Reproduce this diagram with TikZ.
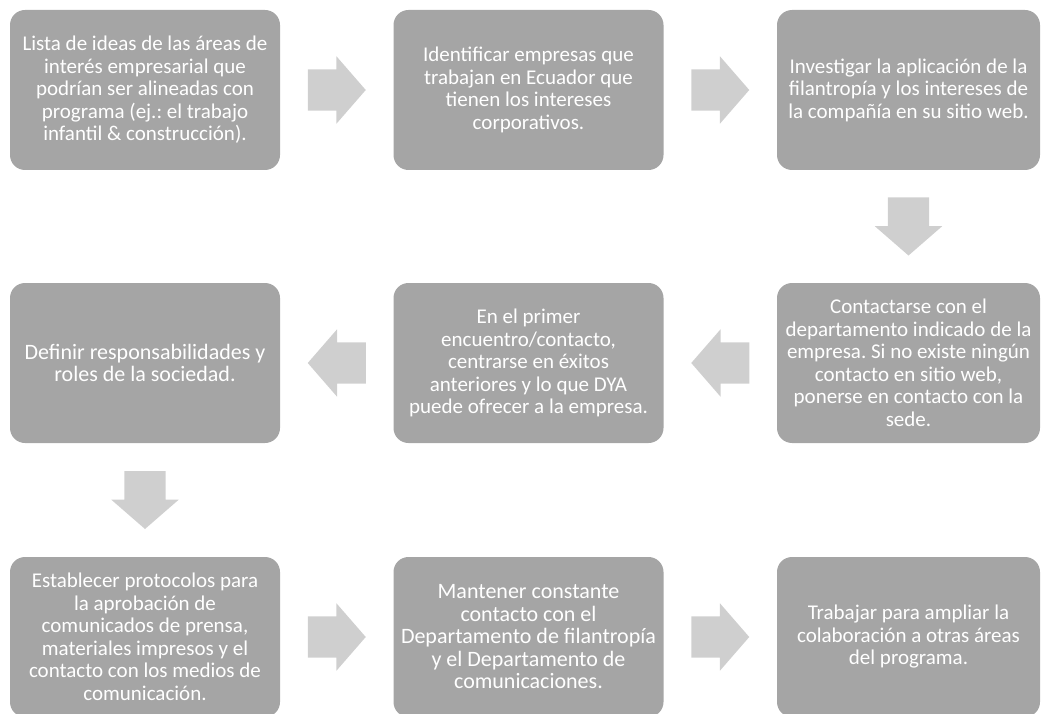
\documentclass[tikz,border=0pt]{standalone}
\usepackage{fontspec}
\setmainfont{Carlito}
\frenchspacing
\usetikzlibrary{shapes.arrows,calc}
\definecolor{cajagris}{HTML}{A5A5A5}
\definecolor{flechagris}{HTML}{CFCFCF}
\tikzset{caja/.style={fill=cajagris, rounded corners=15pt, minimum width=270pt, minimum height=160pt, text=white, align=center, font=\fontsize{#1}{22.5}\selectfont, inner sep=0pt},
caja/.default=21,
flecha/.style={single arrow, fill=flechagris, minimum height=58pt, minimum width=67pt, single arrow head extend=13pt, single arrow tip angle=98, inner xsep=0pt, inner ysep=20.5pt, outer sep=0pt, anchor=tail},
flechabajo/.style={flecha, shape border rotate=270, inner xsep=20.5pt, inner ysep=0pt}}

\begin{document}
\begin{tikzpicture}[x=1pt,y=-1pt]
\useasboundingbox (0,0) rectangle (1044,714);
% fila 1
\node[caja] (ideas) at (145,90) {Lista de ideas de las áreas de\\ interés empresarial que\\ podrían ser alineadas con\\ programa (ej.: el trabajo\\ infantil \& construcción).};
\node[caja] (empresas) at (528.5,90) {Identificar empresas que\\ trabajan en Ecuador que\\ tienen los intereses\\ corporativos.};
\node[caja, minimum width=263pt] (investigar) at (908.5,90) {Investigar la aplicación de la\\ filantropía y los intereses de\\ la compañía en su sitio web.};
% fila 2
\node[caja, minimum width=263pt] (contactar) at (908.5,363) {Contactarse con el\\ departamento indicado de la\\ empresa. Si no existe ningún\\ contacto en sitio web,\\ ponerse en contacto con la\\ sede.};
\node[caja] (encuentro) at (528.5,363) {En el primer\\ encuentro/contacto,\\ centrarse en éxitos\\ anteriores y lo que DYA\\ puede ofrecer a la empresa.};
\node[caja=22] (roles) at (145,363) {Definir responsabilidades y\\ roles de la sociedad.};
% fila 3
\node[caja] (protocolos) at (145,637) {Establecer protocolos para\\ la aprobación de\\ comunicados de prensa,\\ materiales impresos y el\\ contacto con los medios de\\ comunicación.};
\node[caja=22] (mantener) at (528.5,637) {Mantener constante\\ contacto con el\\ Departamento de filantropía\\ y el Departamento de\\ comunicaciones.};
\node[caja, minimum width=263pt] (ampliar) at (908.5,637) {Trabajar para ampliar la\\ colaboración a otras áreas\\ del programa.};
% flechas
\node[flecha] (f1) at ($(ideas.east)!.5!(empresas.west)+(-29,0)$) {};
\node[flecha] (f2) at ($(empresas.east)!.5!(investigar.west)+(-29,0)$) {};
\node[flechabajo] (f3) at ($(investigar.south)!.5!(contactar.north)+(0,-29)$) {};
\node[flecha, shape border rotate=180] (f4) at ($(contactar.west)!.5!(encuentro.east)+(29,0)$) {};
\node[flecha, shape border rotate=180] (f5) at ($(encuentro.west)!.5!(roles.east)+(29,0)$) {};
\node[flechabajo] (f6) at ($(roles.south)!.5!(protocolos.north)+(0,-29)$) {};
\node[flecha] (f7) at ($(protocolos.east)!.5!(mantener.west)+(-29,0)$) {};
\node[flecha] (f8) at ($(mantener.east)!.5!(ampliar.west)+(-29,0)$) {};
\end{tikzpicture}
\end{document}
